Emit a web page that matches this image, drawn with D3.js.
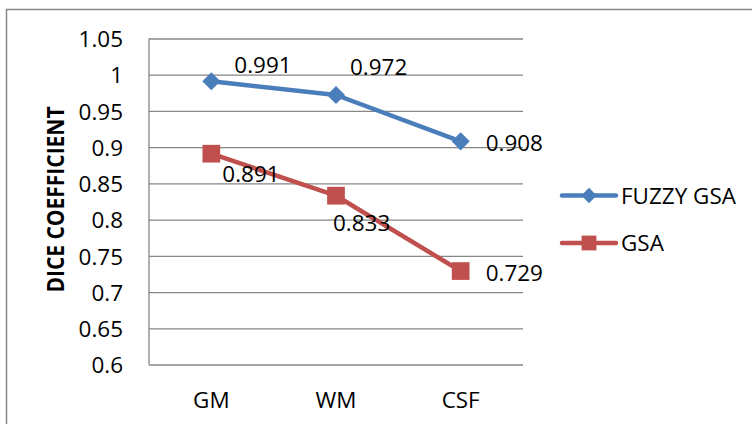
<!DOCTYPE html>
<html>
<head>
<meta charset="utf-8">
<script src="https://cdn.jsdelivr.net/npm/d3@7"></script>
<style>
  html, body { margin: 0; padding: 0; background: #fff; }
  svg text { font-family: "Open Sans", "Liberation Sans", sans-serif; fill: #000; }
</style>
</head>
<body>
<svg id="chart" width="752" height="424"></svg>
<script>
// Dice coefficient per tissue class for the two segmentation methods
const categories = ["GM", "WM", "CSF"];
const seriesNames = ["FUZZY GSA", "GSA"];
const fuzzyGsaValues = [0.991, 0.972, 0.908];
const gsaValues = [0.891, 0.833, 0.729];
const yTicks = [0.6, 0.65, 0.7, 0.75, 0.8, 0.85, 0.9, 0.95, 1, 1.05];
const yTickLabels = ["0.6", "0.65", "0.7", "0.75", "0.8", "0.85", "0.9", "0.95", "1", "1.05"];
const yAxisTitle = "DICE COEFFICIENT";

const plot = { left: 149, right: 523, top: 38.5, bottom: 364.5 };
const textStretch = 1.07;
const fontSize = 21;
const gridColor = "#868686";
const colors = ["#4A7EBB", "#C0504D"];

const svg = d3.select("#chart");

// chart area border (runs off the right and bottom edges)
svg.append("rect")
  .attr("x", 6.5).attr("y", 9.5)
  .attr("width", 900).attr("height", 600)
  .attr("fill", "#fff")
  .attr("stroke", gridColor).attr("stroke-width", 1.5);

const x = d3.scaleBand().domain(categories).range([plot.left, plot.right]);
const y = d3.scaleLinear().domain([0.6, 1.05]).range([plot.bottom, plot.top]);

// value axis with gridlines
const yAxis = d3.axisLeft(y)
  .tickValues(yTicks)
  .tickSize(-(plot.right - plot.left))
  .tickPadding(0)
  .tickFormat((d, i) => yTickLabels[i]);

const gy = svg.append("g").attr("transform", `translate(${plot.left},0)`).call(yAxis);
gy.select(".domain").remove();
gy.selectAll(".tick line").attr("stroke", gridColor).attr("stroke-width", 1.3);
gy.selectAll(".tick text")
  .attr("x", null)
  .attr("dy", null)
  .attr("dominant-baseline", "central")
  .attr("text-anchor", "end")
  .attr("transform", `translate(-26,0) scale(${textStretch},1)`)
  .style("font-size", fontSize + "px")
  .style("font-family", '"Open Sans", sans-serif')
  .attr("fill", "#000");

// vertical axis line
svg.append("line")
  .attr("x1", plot.left).attr("x2", plot.left)
  .attr("y1", plot.top).attr("y2", plot.bottom)
  .attr("stroke", gridColor).attr("stroke-width", 1.3);

// category axis labels
const gx = svg.append("g").attr("transform", `translate(0,${plot.bottom})`)
  .call(d3.axisBottom(x).tickSize(0).tickPadding(0));
gx.select(".domain").remove();
gx.selectAll(".tick text")
  .attr("y", null)
  .attr("dy", null)
  .attr("dominant-baseline", "central")
  .attr("text-anchor", "middle")
  .attr("transform", `translate(0,35) scale(${textStretch},1)`)
  .style("font-size", fontSize + "px")
  .style("font-family", '"Open Sans", sans-serif')
  .attr("fill", "#000");

// axis title
svg.append("text")
  .attr("transform", `translate(55,${(plot.top + plot.bottom) / 2 - 2}) scale(1.1,1) rotate(-90)`)
  .attr("text-anchor", "middle")
  .attr("dominant-baseline", "central")
  .style("font-size", "21px")
  .style("font-weight", "bold")
  .text(yAxisTitle);

const cx = c => x(c) + x.bandwidth() / 2;
const series = [fuzzyGsaValues, gsaValues];

const diamond = d3.symbol().type(d3.symbolDiamond2);
const square = d3.symbol().type(d3.symbolSquare2);
const markerPath = (i, s) => (i === 0 ? diamond.size(s)() : square.size(s)());

const line = d3.line().x((d, i) => cx(categories[i])).y(d => y(d));

series.forEach((vals, si) => {
  svg.append("path")
    .datum(vals)
    .attr("d", line)
    .attr("fill", "none")
    .attr("stroke", colors[si])
    .attr("stroke-width", 4.5)
    .attr("stroke-linejoin", "round")
    .attr("stroke-linecap", "round");

  svg.selectAll(null).data(vals).enter().append("path")
    .attr("transform", (d, i) => `translate(${cx(categories[i])},${y(d)})`)
    .attr("d", markerPath(si, si === 0 ? 210 : 400))
    .attr("fill", colors[si]);
});

// data label placement relative to each point (text left edge, centre line)
const labelOffsets = [
  [[23, -16], [14, -28], [25, 1]],
  [[11, 20], [-3, 27.5], [25, 1.5]]
];

series.forEach((vals, si) => {
  svg.selectAll(null).data(vals).enter().append("text")
    .attr("transform", (d, i) =>
      `translate(${cx(categories[i]) + labelOffsets[si][i][0]},${y(d) + labelOffsets[si][i][1]}) scale(${textStretch},1)`)
    .attr("dominant-baseline", "central")
    .style("font-size", fontSize + "px")
    .text(d => d3.format(".3f")(d));
});

// legend
const legend = { x1: 562, x2: 616, textX: 621, ys: [195.5, 243] };
seriesNames.forEach((name, si) => {
  const ly = legend.ys[si];
  const g = svg.append("g");
  g.append("line")
    .attr("x1", legend.x1).attr("x2", legend.x2)
    .attr("y1", ly).attr("y2", ly)
    .attr("stroke", colors[si]).attr("stroke-width", 4.5)
    .attr("stroke-linecap", "round");
  g.append("path")
    .attr("transform", `translate(${(legend.x1 + legend.x2) / 2},${ly})`)
    .attr("d", markerPath(si, si === 0 ? 150 : 280))
    .attr("fill", colors[si]);
  g.append("text")
    .attr("transform", `translate(${legend.textX},${ly}) scale(${textStretch},1)`)
    .attr("dominant-baseline", "central")
    .style("font-size", fontSize + "px")
    .text(name);
});
</script>
</body>
</html>
